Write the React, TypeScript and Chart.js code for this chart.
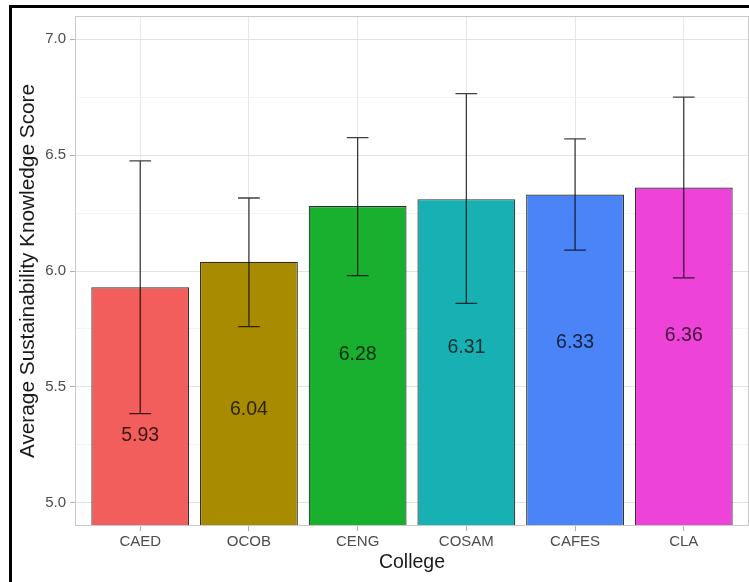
import React, { useEffect, useRef } from 'react';
import { Chart, registerables } from 'chart.js';

Chart.register(...registerables);

const colleges = ['CAED', 'OCOB', 'CENG', 'COSAM', 'CAFES', 'CLA'];
const means = [5.93, 6.04, 6.28, 6.31, 6.33, 6.36];
const errLower = [5.385, 5.76, 5.98, 5.86, 6.09, 5.97];
const errUpper = [6.475, 6.315, 6.575, 6.765, 6.57, 6.75];
const barColors = ['#F25E5B', '#A98B00', '#19AF2F', '#17B1B4', '#4B84F7', '#EE43D8'];
const yTicks = [5.0, 5.25, 5.5, 5.75, 6.0, 6.25, 6.5, 6.75, 7.0];
const yMin = 4.9;
const yMax = 7.1;
const xMin = -0.6;
const xMax = colleges.length - 1 + 0.6;
const labelOffset = 0.64;

const FONT = '"Liberation Sans", Arial, Helvetica, sans-serif';

const isMajor = (v: number) => Math.abs(v * 2 - Math.round(v * 2)) < 1e-6;

const overlayPlugin = {
  id: 'overlay',
  afterDatasetsDraw(chart: any) {
    const { ctx, scales, chartArea } = chart;
    const x = scales.x;
    const y = scales.y;
    const w = chartArea.right - chartArea.left;
    const h = chartArea.bottom - chartArea.top;
    ctx.save();
    ctx.beginPath();
    ctx.rect(chartArea.left, chartArea.top, w, h);
    ctx.clip();
    const step = x.getPixelForValue(1) - x.getPixelForValue(0);
    const capHalf = step * 0.1;
    ctx.strokeStyle = 'rgba(0,0,0,0.75)';
    ctx.lineWidth = 1.3;
    colleges.forEach((_, i) => {
      const cx = x.getPixelForValue(i);
      const yt = y.getPixelForValue(errUpper[i]);
      const yb = y.getPixelForValue(errLower[i]);
      ctx.beginPath();
      ctx.moveTo(cx, yt);
      ctx.lineTo(cx, yb);
      ctx.moveTo(cx - capHalf, yt);
      ctx.lineTo(cx + capHalf, yt);
      ctx.moveTo(cx - capHalf, yb);
      ctx.lineTo(cx + capHalf, yb);
      ctx.stroke();
    });
    ctx.fillStyle = 'rgba(0,0,0,0.75)';
    ctx.font = '19.5px ' + FONT;
    ctx.textAlign = 'center';
    ctx.textBaseline = 'middle';
    means.forEach((m, i) => {
      ctx.fillText(m.toFixed(2), x.getPixelForValue(i), y.getPixelForValue(m - labelOffset));
    });
    ctx.restore();
    ctx.save();
    ctx.strokeStyle = '#C9C9C9';
    ctx.lineWidth = 1;
    ctx.strokeRect(chartArea.left + 0.5, chartArea.top + 0.5, w - 1, h - 1);
    ctx.restore();
  },
};

export default function App() {
  const canvasRef = useRef<HTMLCanvasElement | null>(null);

  useEffect(() => {
    if (!canvasRef.current) return;
    const chart = new Chart(canvasRef.current, {
      type: 'bar',
      data: {
        datasets: [
          {
            data: means.map((m, i) => ({ x: i, y: m })),
            backgroundColor: barColors,
            borderColor: 'rgba(25,25,25,0.9)',
            borderWidth: 1.2,
            borderSkipped: 'start',
            barPercentage: 0.9,
            categoryPercentage: 1.0,
          },
        ],
      },
      options: {
        responsive: false,
        animation: false,
        devicePixelRatio: 1,
        layout: { padding: { left: 0, top: 16, right: 0, bottom: 0 } },
        plugins: { legend: { display: false }, tooltip: { enabled: false } },
        scales: {
          x: {
            type: 'linear',
            min: xMin,
            max: xMax,
            offset: false,
            afterBuildTicks: (s: any) => {
              s.ticks = colleges.map((_, i) => ({ value: i }));
            },
            grid: {
              offset: false,
              color: '#E6E6E6',
              lineWidth: 1,
              tickLength: 5,
              tickColor: '#B0B0B0',
            },
            border: { display: false },
            ticks: {
              color: '#4D4D4D',
              font: { family: FONT, size: 15 },
              padding: 2,
              autoSkip: false,
              maxRotation: 0,
              callback: (v: any) => colleges[Math.round(Number(v))] ?? '',
            },
            title: {
              display: true,
              text: 'College',
              color: '#1A1A1A',
              font: { family: FONT, size: 19.5 },
              padding: { top: 0, bottom: 7.3 },
            },
            afterFit: (s: any) => {
              s.height = 56;
            },
          },
          y: {
            min: yMin,
            max: yMax,
            afterBuildTicks: (s: any) => {
              s.ticks = yTicks.map((v) => ({ value: v }));
            },
            grid: {
              color: (c: any) => (isMajor(c.tick.value) ? '#E3E3E3' : '#F0F0F0'),
              lineWidth: (c: any) => (isMajor(c.tick.value) ? 1 : 0.8),
              tickLength: 5,
              tickColor: (c: any) => (isMajor(c.tick.value) ? '#B0B0B0' : 'rgba(0,0,0,0)'),
            },
            border: { display: false },
            ticks: {
              color: '#4D4D4D',
              font: { family: FONT, size: 15 },
              padding: 4,
              callback: (v: any) => (isMajor(Number(v)) ? Number(v).toFixed(1) : ''),
            },
            title: {
              display: true,
              text: 'Average Sustainability Knowledge Score',
              color: '#1A1A1A',
              font: { family: FONT, size: 20.8 },
              padding: { top: 16, bottom: 0 },
            },
            afterFit: (s: any) => {
              s.width = 75;
            },
          },
        },
      },
      plugins: [overlayPlugin],
    });
    return () => chart.destroy();
  }, []);

  return (
    <div style={{ position: 'absolute', left: 0, top: 0, width: 749, height: 582, background: '#fff' }}>
      <canvas ref={canvasRef} width={749} height={582} style={{ display: 'block', width: 749, height: 582 }} />
      <div
        style={{
          position: 'absolute',
          left: 9,
          top: 5,
          width: 740,
          height: 577,
          boxSizing: 'border-box',
          borderLeft: '3px solid #000',
          borderTop: '3px solid #000',
          pointerEvents: 'none',
        }}
      />
    </div>
  );
}
